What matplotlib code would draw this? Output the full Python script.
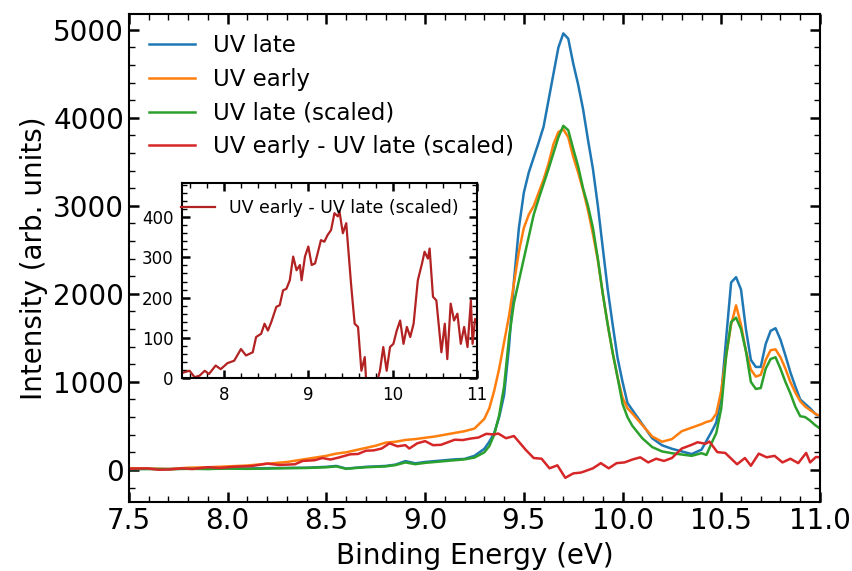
import numpy as np
import matplotlib
matplotlib.use("Agg")
import matplotlib.pyplot as plt

# binding energy grid for the three spectra (eV)
energy = [7.5, 7.6, 7.7, 7.8, 7.9, 8.0, 8.1, 8.2, 8.3, 8.4,
          8.5, 8.55, 8.6, 8.65, 8.7, 8.75, 8.8, 8.85, 8.9, 8.95,
          9.0, 9.05, 9.1, 9.15, 9.2, 9.25, 9.3, 9.325, 9.35, 9.375,
          9.4, 9.425, 9.45, 9.475, 9.5, 9.525, 9.55, 9.575, 9.6, 9.625,
          9.65, 9.675, 9.7, 9.725, 9.75, 9.775, 9.8, 9.825, 9.85, 9.875,
          9.9, 9.925, 9.95, 9.975, 10.0, 10.025, 10.05, 10.1, 10.15, 10.2,
          10.25, 10.3, 10.35, 10.4, 10.425, 10.45, 10.475, 10.5, 10.525, 10.55,
          10.575, 10.6, 10.625, 10.65, 10.675, 10.7, 10.725, 10.75, 10.775, 10.8,
          10.825, 10.85, 10.875, 10.9, 10.925, 10.95, 10.975, 11.0]

uv_late = [10, 12, 10, 15, 12, 18, 15, 20, 22, 25,
           35, 45, 15, 25, 35, 40, 45, 60, 100, 75,
           90, 100, 110, 120, 125, 160, 240, 320, 420, 600,
           850, 1400, 2150, 2750, 3150, 3380, 3550, 3720, 3900, 4200,
           4500, 4800, 4960, 4900, 4620, 4380, 4100, 3750, 3420, 3000,
           2520, 2050, 1650, 1270, 1000, 760, 680, 520, 360, 280,
           240, 210, 180, 230, 330, 430, 540, 850, 1500, 2130,
           2190, 2050, 1600, 1250, 1170, 1170, 1430, 1580, 1610, 1480,
           1300, 1110, 950, 800, 750, 700, 640, 600]

uv_early = [20, 15, 10, 25, 30, 40, 50, 70, 90, 125,
            160, 185, 200, 225, 250, 275, 310, 320, 340, 350,
            365, 380, 400, 420, 440, 470, 580, 700, 900, 1150,
            1450, 1750, 2120, 2480, 2750, 2900, 3000, 3150, 3300, 3480,
            3700, 3840, 3870, 3780, 3560, 3380, 3180, 2950, 2680, 2380,
            2000, 1650, 1330, 1050, 820, 700, 640, 510, 380, 320,
            350, 440, 480, 520, 545, 560, 640, 900, 1300, 1650,
            1870, 1650, 1350, 1140, 1060, 1080, 1250, 1360, 1370, 1280,
            1150, 1000, 880, 780, 720, 680, 640, 610]

uv_late_scaled = [10, 10, 8, 12, 10, 15, 12, 15, 20, 22,
                  30, 40, 12, 22, 30, 35, 40, 55, 85, 65,
                  80, 90, 100, 110, 120, 140, 200, 270, 400, 620,
                  950, 1500, 1900, 2150, 2400, 2650, 2900, 3080, 3250, 3420,
                  3600, 3780, 3910, 3860, 3650, 3450, 3200, 3000, 2750, 2400,
                  2000, 1650, 1330, 1050, 750, 600, 500, 360, 260, 210,
                  190, 175, 160, 190, 170, 300, 420, 700, 1300, 1680,
                  1730, 1600, 1350, 1000, 920, 930, 1150, 1260, 1280, 1150,
                  1000, 870, 720, 610, 600, 560, 510, 470]

# difference spectrum: UV early - UV late (scaled)
diff_energy = [7.5, 7.52, 7.59, 7.65, 7.71, 7.77, 7.82, 7.9, 7.96, 8.04,
               8.12, 8.2, 8.26, 8.34, 8.38, 8.44, 8.48, 8.52, 8.56, 8.62,
               8.66, 8.7, 8.74, 8.78, 8.82, 8.86, 8.9, 8.92, 8.96, 9.0,
               9.04, 9.08, 9.12, 9.15, 9.19, 9.23, 9.27, 9.31, 9.35, 9.37,
               9.41, 9.45, 9.51, 9.55, 9.59, 9.63, 9.67, 9.71, 9.75, 9.79,
               9.85, 9.89, 9.93, 9.97, 10.01, 10.05, 10.09, 10.13, 10.17, 10.21,
               10.25, 10.3, 10.35, 10.38, 10.42, 10.44, 10.48, 10.52, 10.58, 10.62,
               10.65, 10.69, 10.73, 10.77, 10.81, 10.85, 10.89, 10.93, 10.95, 10.98,
               11.0]
diff = [12, 14, 18, 2, 6, 18, 10, 31, 22, 37,
        43, 72, 56, 64, 102, 110, 135, 118, 139, 177,
        181, 218, 222, 243, 302, 268, 281, 243, 302, 327,
        281, 285, 318, 343, 339, 356, 368, 410, 402, 414,
        360, 385, 227, 135, 127, 18, 52, -90, -40, -30,
        18, 77, 18, 77, 85, 118, 143, 85, 127, 102,
        135, 243, 285, 314, 297, 322, 202, 193, 64, 135,
        47, 185, 143, 160, 85, 127, 77, 193, 85, 147,
        143]

plt.rcParams['font.family'] = 'DejaVu Sans'

fig = plt.figure(figsize=(8.52, 5.71), dpi=100)
ax = fig.add_axes([0.1514, 0.1208, 0.811, 0.8546])

ax.plot(energy, uv_late, color='#1f77b4', lw=1.8, label='UV late')
ax.plot(energy, uv_early, color='#ff7f0e', lw=1.8, label='UV early')
ax.plot(energy, uv_late_scaled, color='#2ca02c', lw=1.8, label='UV late (scaled)')
ax.plot(diff_energy, diff, color='#d62728', lw=1.8, label='UV early - UV late (scaled)')

ax.set_xlim(7.5, 11.0)
ax.set_ylim(-365, 5180)
ax.set_xticks(np.arange(7.5, 11.01, 0.5))
ax.set_yticks(np.arange(0, 5001, 1000))
ax.set_xticks(np.arange(7.5, 11.01, 0.1), minor=True)
ax.set_yticks(np.arange(-200, 5101, 200), minor=True)
ax.tick_params(which='both', direction='in', top=True, right=True, labelsize=20)
ax.tick_params(which='major', length=7.5, width=1.8)
ax.tick_params(which='minor', length=4, width=1)
for s in ax.spines.values():
    s.set_linewidth(1.5)
ax.set_xlabel('Binding Energy (eV)', fontsize=20, labelpad=5)
ax.set_ylabel('Intensity (arb. units)', fontsize=20)
ax.legend(loc='upper left', frameon=False, fontsize=16.5, handlelength=2.0,
          labelspacing=0.47, borderaxespad=0.47)

# inset with the difference spectrum
ins = fig.add_axes([0.2136, 0.338, 0.346, 0.3415])
ins.plot(diff_energy, diff, color='firebrick', lw=1.6, label='UV early - UV late (scaled)')
ins.set_xlim(7.5, 11.0)
ins.set_ylim(0, 485)
ins.set_xticks([8, 9, 10, 11])
ins.set_yticks([0, 100, 200, 300, 400])
ins.set_xticks(np.arange(7.6, 11.01, 0.2), minor=True)
ins.set_yticks(np.arange(0, 481, 20), minor=True)
ins.tick_params(which='both', direction='in', top=True, right=True, labelsize=12, pad=6)
ins.tick_params(which='major', length=6, width=1.8)
ins.tick_params(which='minor', length=3.5, width=1)
for s in ins.spines.values():
    s.set_linewidth(1.5)
ins.legend(loc='upper left', frameon=False, fontsize=12.5, handlelength=2.0,
           bbox_to_anchor=(-0.04, 0.97), borderaxespad=0.2)

fig.savefig('out.png', dpi=100)
